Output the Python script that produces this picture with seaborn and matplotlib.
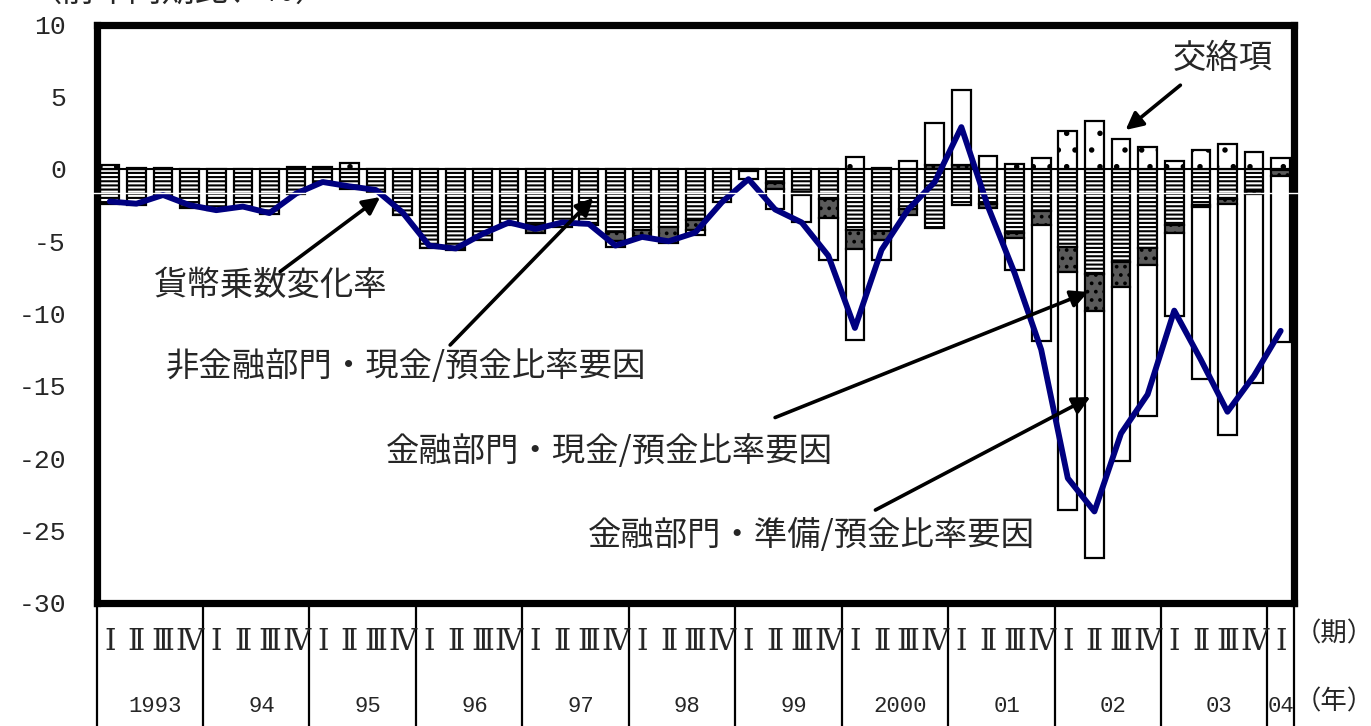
import numpy as np
import pandas as pd
import matplotlib
matplotlib.use("Agg")
import matplotlib.pyplot as plt
from matplotlib.lines import Line2D
import matplotlib.transforms as mtransforms
import seaborn as sns

# ---------------- data ----------------
years = ["1993", "94", "95", "96", "97", "98", "99", "2000", "01", "02", "03", "04"]
quarter_labels = ["Ⅰ", "Ⅱ", "Ⅲ", "Ⅳ"]
n_quarters = 45  # 1993 I - 2004 I

# 非金融部門・現金/預金比率要因
nonfin_cash = [-2.4, -2.5, -1.9, -2.7, -2.85, -2.7, -3.1, -1.7, -0.95, -1.4, -1.6, -3.2,
               -5.5, -5.6, -4.9, -3.9, -3.9, -4.0, -3.9, -4.35, -4.2, -4.0, -3.5, -2.3,
               -0.15, -1.0, -1.6, -2.1, -4.25, -4.3, -2.75, -4.1, -2.5, -2.4, -4.4, -2.9,
               -5.4, -7.25, -6.45, -5.5, -3.9, -2.5, -2.1, -1.5, -0.1]
# 金融部門・現金/預金比率要因
fin_cash = [0, 0, 0, 0, 0, 0, 0, 0, 0, 0, 0, 0,
            0, 0, 0, 0, -0.5, 0, 0, -0.6, -0.45, -1.15, -0.7, 0,
            0, -0.4, -0.2, -1.3, -1.3, -0.6, -0.45, 0.3, 0.3, -0.3, -0.35, -1.0,
            -1.7, -2.6, -1.7, -1.15, -0.5, -0.1, -0.35, -0.2, -0.4]
# 金融部門・準備/預金比率要因
fin_reserve = [0, 0, 0, 0, 0, 0, 0, 0, 0, 0, 0, 0,
               0, 0, 0, 0, 0, 0, 0, -0.45, 0, 0, -0.35, 0,
               -0.55, -1.4, -1.9, -2.9, -6.3, -1.4, 0.55, 2.9, 5.2, 0.9, -2.25, -8.0,
               -16.5, -17.05, -12.05, -10.45, -5.8, -11.95, -15.95, -13.1, -11.45]
# 交絡項
cross_term = [0.3, 0.1, 0.1, 0, 0, 0, 0, 0.15, 0.15, 0.4, 0, 0,
              0, 0, 0, 0, 0, 0, 0, 0, 0, 0, 0, 0,
              0, 0, 0, 0, 0.8, 0.1, 0, 0, 0, 0, 0.35, 0.75,
              2.65, 3.3, 2.05, 1.5, 0.55, 1.3, 1.7, 1.15, 0.75]
# 貨幣乗数変化率
multiplier = [-2.25, -2.4, -1.8, -2.5, -2.85, -2.6, -3.05, -1.7, -0.9, -1.2, -1.45, -3.0,
              -5.3, -5.5, -4.5, -3.7, -4.15, -3.7, -3.8, -5.3, -4.7, -5.0, -4.4, -2.3,
              -0.7, -2.8, -3.7, -6.0, -11.0, -5.6, -2.8, -0.9, 2.9, -2.6, -7.2, -12.5,
              -21.4, -23.7, -18.3, -15.6, -9.8, -13.2, -16.8, -14.3, -11.2]

yticks = [-30, -25, -20, -15, -10, -5, 0, 5, 10]
ytick_labels = ["-30", "-25", "-20", "-15", "-10", "-5", "0", "5", "10"]

# ---------------- style ----------------
sns.set_theme(style="white")
plt.rcParams["font.family"] = ["Noto Sans CJK JP", "DejaVu Sans"]
plt.rcParams["axes.unicode_minus"] = False
plt.rcParams["hatch.linewidth"] = 1.5

W, H = 1371, 726
fig = plt.figure(figsize=(W / 100, H / 100), dpi=100)
fig.patch.set_facecolor("white")
ax_left, ax_right, ax_top, ax_bot = 96.5, 1294, 24.5, 602.5
ax = fig.add_axes([ax_left / W, 1 - ax_bot / H, (ax_right - ax_left) / W, (ax_bot - ax_top) / H])
ax.set_facecolor("white")

x = np.arange(n_quarters)
df = pd.DataFrame({"q": x, "line": multiplier})

# stacked bars
components = [
    (nonfin_cash, dict(facecolor="white", hatch="----")),
    (fin_cash, dict(facecolor="#5a5a5a", hatch="..")),
    (fin_reserve, dict(facecolor="white", hatch=None)),
    (cross_term, dict(facecolor="white", hatch=".")),
]
pos_base = np.zeros(n_quarters)
neg_base = np.zeros(n_quarters)
for vals, st in components:
    v = np.asarray(vals, dtype=float)
    bottom = np.where(v >= 0, pos_base, neg_base)
    m = v != 0
    ax.bar(x[m], v[m], bottom=bottom[m], width=0.7, edgecolor="black",
           linewidth=1.6, zorder=2, **st)
    pos_base += np.clip(v, 0, None)
    neg_base += np.clip(v, None, 0)

ax.axhline(0, color="black", lw=1.5, zorder=1.5)

sns.lineplot(data=df, x="q", y="line", ax=ax, color="#000080", lw=4.2, zorder=5)

ax.set_xlim(-0.5, n_quarters - 0.5)
ax.set_ylim(-30, 10)
ax.set_xticks([])
ax.set_yticks(yticks)
ax.set_yticklabels(ytick_labels, family="Liberation Mono", fontsize=19)
ax.tick_params(axis="y", direction="in", length=3, width=1.5, pad=22, left=True)
ax.set_xlabel("")
ax.set_ylabel("")
for s in ax.spines.values():
    s.set_visible(True)
    s.set_color("black")
    s.set_linewidth(5.2)

# annotations
arrow_kw = dict(arrowstyle="-|>", color="black", lw=2.6, mutation_scale=26,
                shrinkA=0, shrinkB=0)
fs = 24
ax.annotate("", xy=(38.17, 2.7), xytext=(40.23, 5.8), arrowprops=arrow_kw, zorder=6)
ax.text(41.81, 7.68, "交絡項", fontsize=fs, ha="center", va="center")

ax.annotate("", xy=(10.16, -1.94), xytext=(6.4, -7.1), arrowprops=arrow_kw, zorder=6)
ax.text(6.06, -8.03, "貨幣乗数変化率", fontsize=fs, ha="center", va="center")

ax.annotate("", xy=(18.17, -2.0), xytext=(12.79, -12.18), arrowprops=arrow_kw, zorder=6)
ax.text(11.14, -13.70, "非金融部門・現金/預金比率要因", fontsize=fs, ha="center", va="center")

ax.annotate("", xy=(36.77, -8.51), xytext=(25.0, -17.2), arrowprops=arrow_kw, zorder=6)
ax.text(18.77, -19.58, "金融部門・現金/預金比率要因", fontsize=fs, ha="center", va="center")

ax.annotate("", xy=(36.85, -15.78), xytext=(28.77, -23.6), arrowprops=arrow_kw, zorder=6)
ax.text(26.36, -25.33, "金融部門・準備/預金比率要因", fontsize=fs, ha="center", va="center")

# bottom category table
trans = mtransforms.blended_transform_factory(ax.transData, ax.transAxes)
ax_h = ax_bot - ax_top
qy = -(642 - ax_bot) / ax_h
yy = -(707 - ax_bot) / ax_h
for i in range(n_quarters):
    ax.text(i, qy, quarter_labels[i % 4], transform=trans, ha="center", va="center",
            fontsize=21, family=["DejaVu Serif", "Noto Sans CJK JP"], clip_on=False)
bounds = [k * 4 - 0.5 for k in range(12)] + [n_quarters - 0.5]
for b in bounds:
    ax.add_line(Line2D([b, b], [0, -0.3], transform=trans, color="black", lw=1.6,
                       clip_on=False))
for k, yl in enumerate(years):
    cx = 4 * k + 1.7 if k < 11 else n_quarters - 1
    ax.text(cx, yy, yl, transform=trans, ha="center", va="center", fontsize=16,
            family="Liberation Mono", clip_on=False)

fig.text(1334 / W, 1 - 634 / H, "（期）", ha="center", va="center", fontsize=19)
fig.text(1334 / W, 1 - 702 / H, "（年）", ha="center", va="center", fontsize=19)
fig.text(179 / W, 1 + 9 / H, "（前年同期比、％）", ha="center", va="center", fontsize=fs)

# thin white scan line present in the source image
fig.add_artist(Line2D([92 / W, 1298 / W], [1 - 192.5 / H] * 2, color="white", lw=1.0,
                      zorder=20))

fig.savefig("out.png", dpi=100, facecolor="white")
